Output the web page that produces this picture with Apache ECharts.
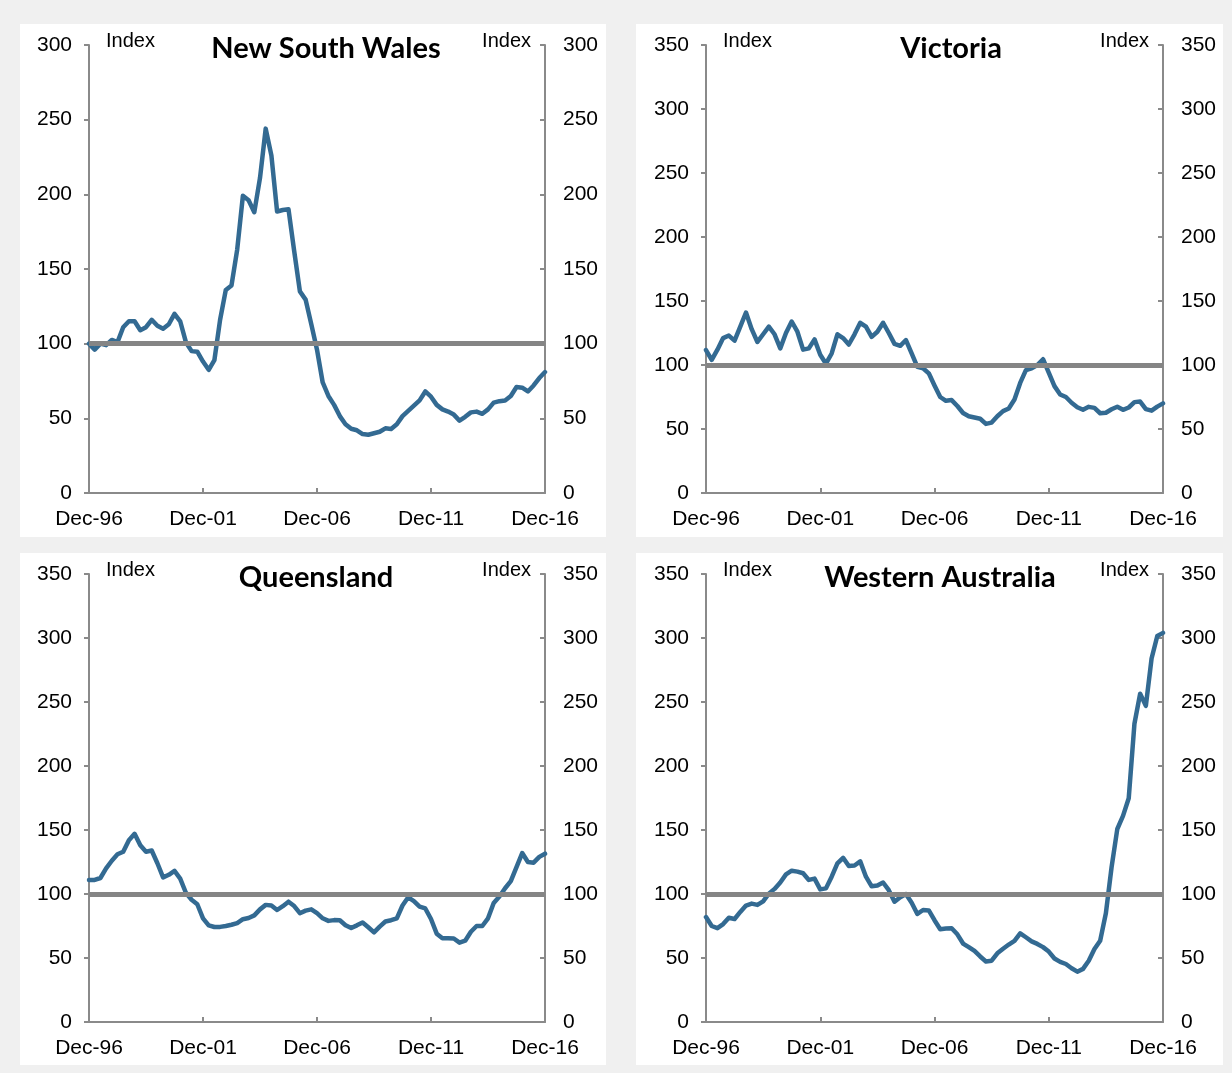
<!DOCTYPE html>
<html>
<head>
<meta charset="utf-8">
<script src="https://cdn.jsdelivr.net/npm/echarts@6/dist/echarts.min.js"></script>
<style>
  html, body { margin: 0; padding: 0; background: #f0f0f0; }
  #chart { width: 1232px; height: 1073px; }
</style>
</head>
<body>
<div id="chart"></div>
<script>
// Quarterly index by state, Dec-96 to Dec-16 (100 = reference level)
const tickLabels = ['Dec-96', 'Dec-01', 'Dec-06', 'Dec-11', 'Dec-16'];

const stateNames = ['New South Wales', 'Victoria', 'Queensland', 'Western Australia'];

const nswValues = [
  100, 96, 100, 99, 102.5, 101, 111, 115, 115, 109,
  111, 116, 112, 110, 113, 120, 115, 101, 95, 94.6,
  88, 82.5, 89, 116, 136, 139, 163, 199, 196, 188,
  211, 244, 226, 188.5, 189.5, 190, 162, 135, 129.5, 113,
  96, 74, 65, 59, 51.5, 46, 43, 42, 39.5, 39,
  40, 41, 43.3, 42.8, 46, 51.5, 55, 58.5, 62, 68,
  64.5, 59, 56, 54.5, 52.5, 48.5, 51, 54, 54.5, 53,
  56, 60.5, 61.5, 62, 65, 71, 70.5, 68, 72, 77,
  81
];

const vicValues = [
  111.7, 104, 112, 121, 123, 119, 130, 141, 128, 118,
  124, 130, 124, 113, 125, 134, 126, 112, 113, 120,
  108, 101, 109, 124, 121, 116, 124, 133, 130, 122,
  126, 133, 125, 116.5, 115, 119.5, 109, 98.5, 97.5, 93.5,
  84, 75, 72, 72.6, 68, 62.5, 60, 59, 58, 54,
  55, 60, 64, 66, 73, 86, 96, 97.4, 100, 104.5,
  94, 83.5, 77, 75, 70.5, 67, 65, 67.3, 66.5, 62.3,
  62.7, 65.4, 67.4, 65, 66.8, 71, 71.4, 65.5, 64.3, 67.5,
  70
];

const qldValues = [
  111, 111, 112.5, 120, 126, 131, 133, 142, 147, 138,
  133, 134, 124, 113, 115, 118, 112, 101, 95.5, 92,
  81, 75.5, 74.2, 74.3, 75, 76, 77.3, 80.3, 81.3, 83.3,
  88, 91.5, 91, 87.5, 90.5, 94, 90.6, 85, 87, 88,
  85, 81, 79, 79.6, 79.5, 75.6, 73.4, 75.5, 77.8, 74,
  70, 74.5, 78.5, 79.5, 81, 91, 97.4, 94.5, 90.2, 88.7,
  80.5, 69, 65.5, 65.4, 65.2, 62, 63.5, 70.5, 75, 75,
  81, 93, 98, 104.5, 110, 121, 132, 125, 124.5, 129,
  131.5
];

const waValues = [
  82, 75, 73.3, 76.5, 81.5, 80.5, 86, 91, 92.5, 91.5,
  94.3, 100.3, 104, 109, 115.3, 118.2, 117.5, 116.2, 111, 112,
  103.6, 104.4, 113.5, 124, 128.3, 121.9, 122.3, 125.5, 113.5, 106,
  106.6, 109, 103, 94, 97.5, 100, 93.2, 84.4, 87.5, 87.2,
  79.5, 72.5, 73, 73.2, 68.5, 61.3, 58.5, 55.5, 51.2, 47.3,
  47.9, 53.7, 57.2, 60.5, 63.4, 69.3, 66.2, 63, 61, 58.5,
  55, 49.6, 47, 45.3, 42, 39.3, 41.5, 47.8, 57, 63.5,
  85, 121, 150.8, 161, 174.8, 233, 256.5, 247, 284, 301.6,
  304
];

const axisMax = [300, 350, 350, 350];
const referenceLevel = 100;

// Quarter labels from Dec-96 through Dec-16
const quarters = [];
const monthNames = ['Mar', 'Jun', 'Sep', 'Dec'];
quarters.push('Dec-96');
for (let yr = 1997; yr <= 2016; yr++) {
  for (const m of monthNames) {
    quarters.push(m + '-' + String(yr % 100).padStart(2, '0'));
  }
}

const seriesValues = [nswValues, vicValues, qldValues, waValues];

// Panel geometry (white cards and plotting areas)
const panels = [
  { card: [20, 24, 586, 513], grid: { left: 89, top: 45, width: 456, height: 448 }, titleX: 326 },
  { card: [636, 24, 587, 513], grid: { left: 706, top: 45, width: 457, height: 448 }, titleX: 951 },
  { card: [20, 553, 586, 512], grid: { left: 89, top: 574, width: 456, height: 448 }, titleX: 316 },
  { card: [636, 553, 587, 512], grid: { left: 706, top: 574, width: 457, height: 448 }, titleX: 940 }
];

const FONT = '"Liberation Sans", Arial, sans-serif';
const FS = 21;
const AXIS_COLOR = '#8a8a8a';
const LINE_COLOR = '#336a92';
const REF_COLOR = '#858585';

const grids = [], xAxes = [], yAxes = [], series = [], graphics = [];

panels.forEach((p, i) => {
  graphics.push({
    type: 'rect', z: -10, silent: true,
    shape: { x: p.card[0], y: p.card[1], width: p.card[2], height: p.card[3] },
    style: { fill: '#ffffff' }
  });
  graphics.push({
    type: 'text', z: 10, silent: true,
    x: p.titleX, y: p.grid.top + 4,
    style: {
      text: stateNames[i], fill: '#000', textAlign: 'center', textVerticalAlign: 'middle',
      font: 'bold 29px Lato, "Open Sans", sans-serif'
    }
  });

  grids.push(Object.assign({ containLabel: false }, p.grid));

  xAxes.push({
    type: 'category', gridIndex: i, data: quarters, boundaryGap: false,
    axisLine: { lineStyle: { color: AXIS_COLOR, width: 2 } },
    axisTick: { inside: true, length: 5, lineStyle: { color: AXIS_COLOR, width: 2 },
      interval: (idx) => idx % 20 === 0 },
    axisLabel: { interval: (idx) => idx % 20 === 0, color: '#000', fontFamily: FONT,
      fontSize: FS, margin: 16,
      formatter: (v) => tickLabels.includes(v) ? v : '' },
    splitLine: { show: false }
  });

  const yCommon = {
    type: 'value', gridIndex: i, min: 0, max: axisMax[i], interval: 50,
    name: 'Index', nameLocation: 'end', nameGap: 4,
    axisLine: { show: true, lineStyle: { color: AXIS_COLOR, width: 2 } },
    splitLine: { show: false }
  };
  yAxes.push(Object.assign({}, yCommon, {
    position: 'left',
    nameTextStyle: { color: '#000', fontFamily: FONT, fontSize: FS - 1, align: 'left',
      verticalAlign: 'middle', padding: [0, 0, 0, 17] },
    axisTick: { show: true, inside: false, length: 5, lineStyle: { color: AXIS_COLOR, width: 2 } },
    axisLabel: { color: '#000', fontFamily: FONT, fontSize: FS, margin: 17 }
  }));
  yAxes.push(Object.assign({}, yCommon, {
    position: 'right',
    nameTextStyle: { color: '#000', fontFamily: FONT, fontSize: FS - 1, align: 'right',
      verticalAlign: 'middle', padding: [0, 14, 0, 0] },
    axisTick: { show: true, inside: true, length: 5, lineStyle: { color: AXIS_COLOR, width: 2 } },
    axisLabel: { color: '#000', fontFamily: FONT, fontSize: FS, margin: 18 }
  }));

  series.push({
    type: 'line', xAxisIndex: i, yAxisIndex: i * 2, data: seriesValues[i],
    showSymbol: false, smooth: false, z: 2,
    lineStyle: { color: LINE_COLOR, width: 4.5, cap: 'round', join: 'round' },
    markLine: {
      silent: true, symbol: 'none', z: 5,
      label: { show: false },
      lineStyle: { color: REF_COLOR, width: 5, type: 'solid' },
      emphasis: { disabled: true },
      data: [{ yAxis: referenceLevel }]
    }
  });
});

const chart = echarts.init(document.getElementById('chart'), null, { renderer: 'canvas' });
chart.setOption({
  backgroundColor: '#f0f0f0',
  animation: false,
  graphic: graphics,
  grid: grids,
  xAxis: xAxes,
  yAxis: yAxes,
  series: series
});
</script>
</body>
</html>
